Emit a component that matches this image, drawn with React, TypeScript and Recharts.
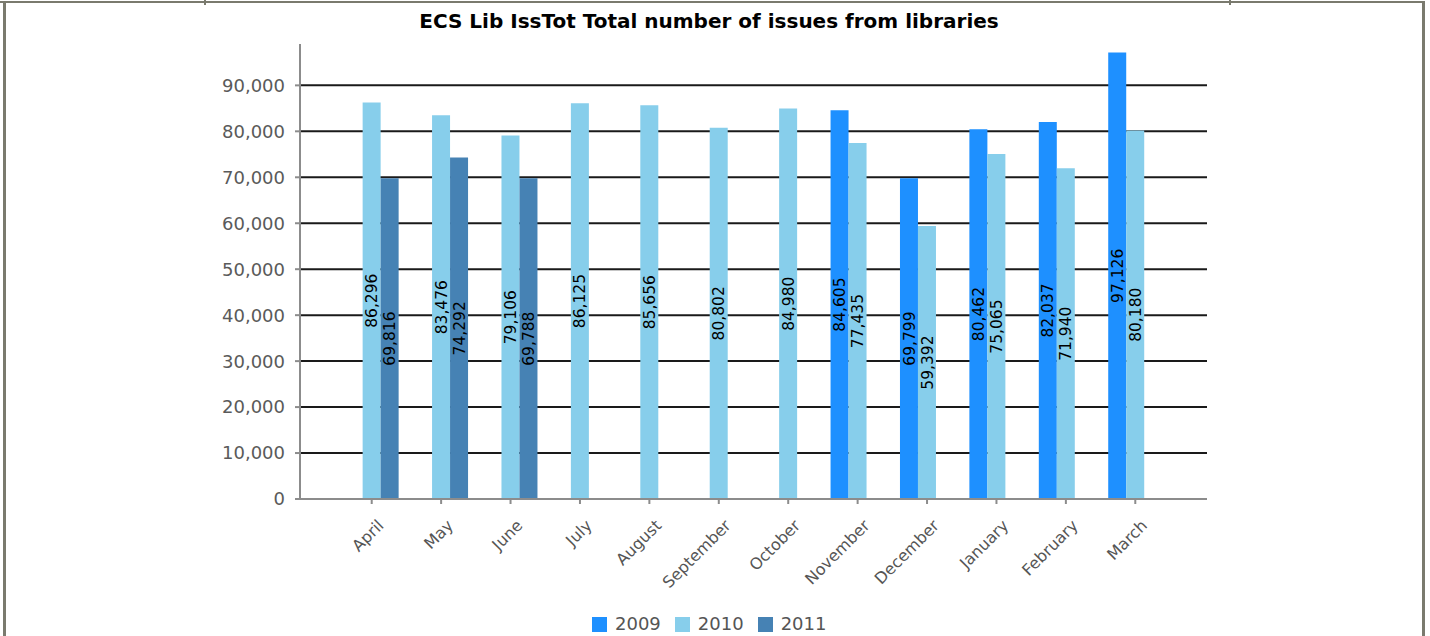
import React from 'react';
import { BarChart, Bar, XAxis, YAxis, CartesianGrid, LabelList } from 'recharts';

const MONTHS = ['April', 'May', 'June', 'July', 'August', 'September', 'October', 'November', 'December', 'January', 'February', 'March'];
const SERIES_NAMES = ['2009', '2010', '2011'];
const SERIES_KEYS = ['s2009', 's2010', 's2011'];
const VALUES_2009 = [null, null, null, null, null, null, null, 84605, 69799, 80462, 82037, 97126];
const VALUES_2010 = [86296, 83476, 79106, 86125, 85656, 80802, 84980, 77435, 59392, 75065, 71940, 80180];
const VALUES_2011 = [69816, 74292, 69788, null, null, null, null, null, null, null, null, null];
const Y_TICKS = [0, 10000, 20000, 30000, 40000, 50000, 60000, 70000, 80000, 90000];
const GRID_VALUES = [10000, 20000, 30000, 40000, 50000, 60000, 70000, 80000, 90000];
const COLORS = ['#1e90ff', '#87ceeb', '#4682b4'];
const TITLE = 'ECS Lib IssTot Total number of issues from libraries';

const data = MONTHS.map((m, i) => ({
  month: m,
  s2009: VALUES_2009[i],
  s2010: VALUES_2010[i],
  s2011: VALUES_2011[i],
}));

const fmt = (v: number) => Number(v).toLocaleString('en-US');
const FONT = '"DejaVu Sans", Verdana, sans-serif';

const renderValueLabel = (props: any) => {
  const { value } = props;
  if (value == null) return null;
  const vb = props.viewBox && props.viewBox.width != null ? props.viewBox : props;
  const x = Number(vb.x);
  const y = Number(vb.y);
  const w = Number(vb.width);
  const h = Number(vb.height);
  const cx = x + w / 2;
  const cy = y + h / 2;
  return (
    <text
      x={cx}
      y={cy}
      transform={`rotate(-90, ${cx}, ${cy})`}
      textAnchor="middle"
      dy="0.36em"
      fontSize={15.5}
      fontFamily={FONT}
      fill="#000"
    >
      {fmt(value)}
    </text>
  );
};

const XTick = (props: any) => {
  const { x, y, payload } = props;
  return (
    <g transform={`translate(${Number(x) + 9}, ${Number(y) + 18.6})`}>
      <text
        x={0}
        y={0}
        dy="0.35em"
        textAnchor="end"
        transform="rotate(-45)"
        fontSize={16}
        fontFamily={FONT}
        fill="#555"
      >
        {payload.value}
      </text>
    </g>
  );
};

const BORDER = '#7a7a6e';

export default function App() {
  return (
    <div style={{ position: 'absolute', left: 0, top: 0, width: 1430, height: 636, background: '#fff', overflow: 'hidden' }}>
      <div style={{ position: 'absolute', left: 0, top: 1, width: 1425, height: 2, background: BORDER }} />
      <div style={{ position: 'absolute', left: 204, top: 0, width: 2, height: 5, background: BORDER }} />
      <div style={{ position: 'absolute', left: 1229, top: 0, width: 2, height: 5, background: BORDER }} />
      <div style={{ position: 'absolute', left: 3, top: 1, width: 3, height: 635, background: BORDER }} />
      <div style={{ position: 'absolute', left: 1422, top: 1, width: 3, height: 635, background: BORDER }} />
      <div
        style={{
          position: 'absolute',
          left: 0,
          width: 1418,
          top: 9,
          textAlign: 'center',
          fontFamily: '"DejaVu Sans", sans-serif',
          fontWeight: 'bold',
          fontSize: 20,
          lineHeight: '24px',
          color: '#000',
        }}
      >
        {TITLE}
      </div>
      <div style={{ position: 'absolute', left: 0, top: 0 }}>
        <BarChart
          width={1430}
          height={636}
          data={data}
          margin={{ top: 44, right: 223, left: 220, bottom: 77 }}
          barCategoryGap="11%"
          barGap={0}
        >
          <CartesianGrid vertical={false} horizontalValues={GRID_VALUES} stroke="#1a1a1a" strokeWidth={2} />
          <XAxis
            dataKey="month"
            interval={0}
            height={60}
            padding={{ left: 37, right: 37 }}
            tickSize={5}
            tickMargin={0}
            axisLine={{ stroke: '#8c8c8c', strokeWidth: 2 }}
            tickLine={{ stroke: '#8c8c8c', strokeWidth: 2 }}
            tick={<XTick />}
          />
          <YAxis
            width={80}
            domain={[0, 99000]}
            ticks={Y_TICKS}
            interval={0}
            tickSize={5}
            tickMargin={10}
            tickFormatter={fmt}
            axisLine={{ stroke: '#8c8c8c', strokeWidth: 2 }}
            tickLine={{ stroke: '#8c8c8c', strokeWidth: 2 }}
            tick={{ fill: '#5a5a5a', fontSize: 18, fontFamily: FONT }}
          />
          {SERIES_KEYS.map((k, i) => (
            <Bar key={k} dataKey={k} name={SERIES_NAMES[i]} fill={COLORS[i]} isAnimationActive={false}>
              <LabelList dataKey={k} content={renderValueLabel} />
            </Bar>
          ))}
        </BarChart>
      </div>
      <div
        style={{
          position: 'absolute',
          left: 592,
          top: 613,
          display: 'flex',
          alignItems: 'center',
          fontFamily: FONT,
          fontSize: 18,
          color: '#555',
          lineHeight: '22px',
        }}
      >
        {SERIES_NAMES.map((n, i) => (
          <div key={n} style={{ display: 'flex', alignItems: 'center', marginRight: 14 }}>
            <div style={{ width: 15, height: 15, background: COLORS[i], marginRight: 8 }} />
            <span>{n}</span>
          </div>
        ))}
      </div>
    </div>
  );
}
